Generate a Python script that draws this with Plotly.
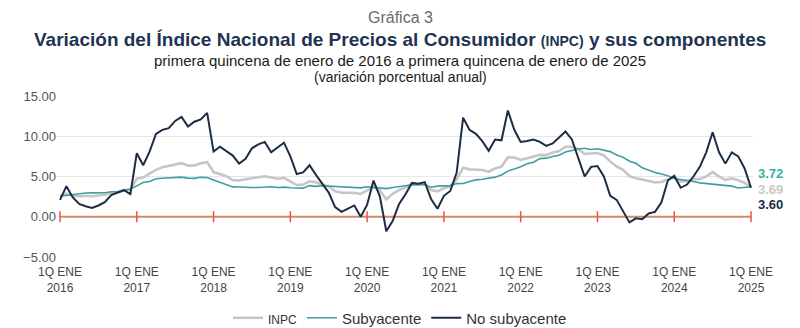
import plotly.graph_objects as go

years = list(range(2016, 2026))
tick_labels = [f"1Q ENE<br>{y}" for y in years]

inpc = [2.61, 2.87, 2.60, 2.54, 2.60, 2.54, 2.65, 2.73, 2.97, 3.06, 3.31, 3.36,
        4.72, 4.86, 5.35, 5.82, 6.16, 6.31, 6.44, 6.66, 6.35, 6.37, 6.63, 6.77,
        5.55, 5.34, 5.04, 4.55, 4.51, 4.65, 4.81, 4.90, 5.02, 4.90, 4.72, 4.83,
        4.37, 3.94, 4.00, 4.41, 4.28, 3.95, 3.78, 3.16, 3.00, 3.02, 2.97, 2.83,
        3.24, 3.70, 3.25, 2.15, 2.84, 3.33, 3.62, 4.05, 4.01, 4.09, 3.33, 3.15,
        3.54, 3.76, 4.67, 6.08, 5.89, 5.88, 5.81, 5.59, 6.00, 6.24, 7.37, 7.36,
        7.07, 7.28, 7.45, 7.68, 7.65, 7.99, 8.15, 8.70, 8.70, 8.41, 7.80, 7.82,
        7.91, 7.62, 6.85, 6.25, 5.84, 5.06, 4.79, 4.64, 4.45, 4.26, 4.32, 4.66,
        4.88, 4.40, 4.42, 4.65, 4.69, 4.98, 5.57, 4.99, 4.58, 4.76, 4.55, 4.21,
        3.69]

subyacente = [2.54, 2.64, 2.75, 2.87, 2.95, 2.97, 2.97, 2.99, 3.10, 3.10, 3.29, 3.44,
              3.84, 4.26, 4.38, 4.72, 4.78, 4.83, 4.94, 4.92, 4.80, 4.77, 4.90, 4.87,
              4.56, 4.27, 4.02, 3.71, 3.69, 3.62, 3.63, 3.63, 3.67, 3.73, 3.63, 3.68,
              3.60, 3.54, 3.55, 3.87, 3.77, 3.85, 3.82, 3.78, 3.75, 3.68, 3.65, 3.59,
              3.73, 3.66, 3.60, 3.50, 3.64, 3.71, 3.85, 3.97, 3.99, 3.98, 3.66, 3.80,
              3.84, 3.87, 4.12, 4.13, 4.37, 4.58, 4.66, 4.78, 4.92, 5.19, 5.67, 5.94,
              6.21, 6.59, 6.78, 7.22, 7.28, 7.49, 7.65, 8.05, 8.28, 8.42, 8.51, 8.35,
              8.45, 8.29, 8.09, 7.67, 7.39, 6.89, 6.64, 6.08, 5.76, 5.50, 5.30, 5.09,
              4.76, 4.64, 4.55, 4.37, 4.21, 4.13, 4.05, 4.00, 3.91, 3.80, 3.58, 3.65,
              3.72]

no_subyacente = [2.1, 3.8, 2.4, 1.6, 1.3, 1.1, 1.4, 1.8, 2.7, 3.0, 3.3, 2.8,
                 7.9, 6.4, 8.1, 10.3, 10.8, 11.0, 11.9, 12.4, 11.2, 11.8, 12.1, 12.9,
                 8.1, 8.7, 8.2, 7.6, 6.6, 7.2, 8.5, 9.0, 9.3, 8.0, 8.6, 9.2,
                 7.5, 5.3, 5.5, 6.4, 5.2, 4.1, 3.0, 1.2, 0.6, 1.0, 1.4, 0.0,
                 1.5, 4.5, 2.5, -1.8, -0.5, 1.6, 2.8, 4.2, 4.1, 4.3, 2.2, 1.0,
                 2.6, 3.2, 5.5, 12.3, 10.8, 10.3, 9.4, 8.2, 9.6, 9.5, 13.2, 10.8,
                 9.3, 9.4, 9.6, 9.3, 8.8, 9.1, 9.8, 10.6, 9.6, 7.2, 5.0, 6.2,
                 6.3, 5.0, 2.6, 2.1, 0.6, -0.7, -0.2, -0.3, 0.4, 0.6, 1.8, 4.5,
                 5.1, 3.6, 4.0, 5.0, 6.2, 8.0, 10.5, 8.0, 6.6, 8.0, 7.5, 6.0,
                 3.60]

months = list(range(len(inpc)))
year_pos = [12 * i for i in range(len(years))]

C_GRAY = "#c6c6c6"
C_TEAL = "#3f9fa0"
C_NAVY = "#1c2d44"
C_ORANGE = "#d48a66"
FONT = "Liberation Sans, Arial, Helvetica, sans-serif"

fig = go.Figure()
fig.add_trace(go.Scatter(x=[months[0], months[-1]], y=[0, 0], mode="lines",
                         line=dict(color=C_ORANGE, width=2), showlegend=False, hoverinfo="skip"))
fig.add_trace(go.Scatter(x=year_pos, y=[0] * len(year_pos), mode="markers",
                         marker=dict(symbol="line-ns-open", size=8, line=dict(color=C_ORANGE, width=1.5)),
                         showlegend=False, hoverinfo="skip"))
fig.add_trace(go.Scatter(x=months, y=inpc, mode="lines", name='<span style="font-size:12px">INPC</span>',
                         line=dict(color=C_GRAY, width=2.6)))
fig.add_trace(go.Scatter(x=months, y=subyacente, mode="lines", name="Subyacente",
                         line=dict(color=C_TEAL, width=1.6)))
fig.add_trace(go.Scatter(x=months, y=no_subyacente, mode="lines", name="No subyacente",
                         line=dict(color=C_NAVY, width=2)))

def py(pix):
    return (257 - pix) / 161.0

px_center = (400 - 57) / 696.0
annots = [
    dict(text="Gráfica 3", y=py(17), font=dict(size=16, color="#6a6a6a", family=FONT)),
    dict(text='<b>Variación del Índice Nacional de Precios al Consumidor <span style="font-size:14px">(INPC)</span> y sus componentes</b>',
         y=py(39), font=dict(size=19, color="#1f3352", family=FONT)),
    dict(text="primera quincena de enero de 2016 a primera quincena de enero de 2025",
         y=py(60), font=dict(size=15, color="#1a1a1a", family=FONT)),
    dict(text="(variación porcentual anual)", y=py(77), font=dict(size=14, color="#1a1a1a", family=FONT)),
]
layout_annots = []
for a in annots:
    layout_annots.append(dict(xref="paper", yref="paper", x=px_center, xanchor="center",
                              yanchor="middle", showarrow=False, **a))

end_labels = [(subyacente[-1], 13, "#35b0a4"), (inpc[-1], -2, "#c8c8c8"),
              (no_subyacente[-1], -17, C_NAVY)]
for val, ys, col in end_labels:
    layout_annots.append(dict(xref="x", yref="y", x=months[-1], y=val, xanchor="left",
                              yanchor="middle", xshift=5, yshift=ys, showarrow=False,
                              text=f"<b>{val:.2f}</b>",
                              font=dict(size=13, color=col, family=FONT)))

fig.update_layout(
    width=800, height=328,
    margin=dict(l=57, r=47, t=96, b=71, autoexpand=False),
    paper_bgcolor="white", plot_bgcolor="white",
    annotations=layout_annots,
    showlegend=True,
    legend=dict(orientation="h", x=px_center, xanchor="center", y=py(318), yanchor="middle",
                font=dict(size=15, color="#333333", family=FONT), traceorder="normal",
                itemwidth=30, bgcolor="rgba(0,0,0,0)"),
    xaxis=dict(range=[-0.47, 108.31], tickvals=year_pos, ticktext=tick_labels,
               showgrid=False, zeroline=False, showline=False, ticks="", automargin=False,
               ticklabelstandoff=6,
               tickfont=dict(size=12, color="#444444", family=FONT)),
    yaxis=dict(range=[-5, 15], tickvals=[-5, 0, 5, 10, 15], tickformat=".2f", automargin=False,
               showgrid=True, gridcolor="#e6e6e6", gridwidth=1, zeroline=False, showline=False,
               ticks="", tickfont=dict(size=13, color="#555555", family=FONT)),
)

fig.write_html("out.html")
